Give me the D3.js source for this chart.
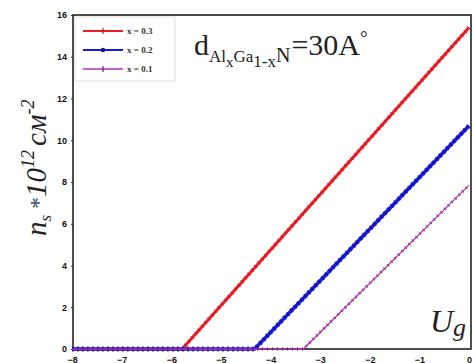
<!DOCTYPE html>
<html>
<head>
<meta charset="utf-8">
<script src="https://cdn.jsdelivr.net/npm/d3@7"></script>
<style>
  body { margin: 0; background: #fff; }
  svg { display: block; }
  .tick text { font-family: "Liberation Sans", Arial, sans-serif; font-weight: bold; font-size: 9px; fill: #111; }
</style>
</head>
<body>
<svg></svg>
<script>
// gate voltage Ug (V) and sheet density ns (1e12 cm^-2)
var ug03 = [-8, -5.78, 0];
var ns03 = [0, 0, 15.4];
var ug02 = [-8, -4.32, 0];
var ns02 = [0, 0, 10.7];
var ug01 = [-8, -3.34, 0];
var ns01 = [0, 0, 7.85];

var seriesNames = ["x = 0.3", "x = 0.2", "x = 0.1"];
var xTicks = [-8, -7, -6, -5, -4, -3, -2, -1, 0];
var yTicks = [0, 2, 4, 6, 8, 10, 12, 14, 16];

var width = 473, height = 363;
var svg = d3.select("svg").attr("width", width).attr("height", height);

var xScale = d3.scaleLinear().domain([-8, 0]).range([72, 469]);
var yScale = d3.scaleLinear().domain([0, 16]).range([349, 15]);

// y axis
svg.append("g")
   .attr("transform", "translate(73,0)")
   .call(d3.axisLeft(yScale).tickValues(yTicks).tickSize(2).tickPadding(4))
   .call(g => g.select(".domain").remove())
   .call(g => g.selectAll(".tick line").attr("stroke", "#333"));

// x axis (labels are cut by the bottom edge, as in the source picture)
svg.append("g")
   .attr("transform", "translate(0,349)")
   .call(d3.axisBottom(xScale).tickValues(xTicks).tickSize(0).tickPadding(8))
   .call(g => g.select(".domain").remove());

// frame
svg.append("rect")
   .attr("x", 73).attr("y", 15)
   .attr("width", 398).attr("height", 334)
   .attr("fill", "none")
   .attr("stroke", "#222")
   .attr("stroke-width", 1.6);

var line = d3.line().x(d => xScale(d[0])).y(d => yScale(d[1]));

var series = [
  {ug: ug03, ns: ns03, color: "#ec1c24", w: 3, mw: 4.5, mc: "#c8141c", dash: "1,4"},
  {ug: ug02, ns: ns02, color: "#1a1ae6", w: 3.6, mw: 4.8, mc: "#10109a", dash: "2,3"},
  {ug: ug01, ns: ns01, color: "#b030b0", w: 1.3, mw: 3.6, mc: "#6a1a78", dash: "1,4"}
];

series.forEach(function(s) {
  var pts = d3.zip(s.ug, s.ns);
  svg.append("path")
     .datum(pts)
     .attr("d", line)
     .attr("fill", "none")
     .attr("stroke", s.color)
     .attr("stroke-width", s.w);
  // dense markers along the curve
  svg.append("path")
     .datum(pts)
     .attr("d", line)
     .attr("fill", "none")
     .attr("stroke", s.mc)
     .attr("stroke-width", s.mw)
     .attr("stroke-dasharray", s.dash)
     .attr("opacity", 0.7);
});

// legend
var legend = svg.append("g");
legend.append("rect")
   .attr("x", 75).attr("y", 17)
   .attr("width", 100).attr("height", 64)
   .attr("fill", "#fff")
   .attr("stroke", "#ddd");

seriesNames.forEach(function(name, i) {
  var y = 31 + i * 19;
  var s = series[i];
  legend.append("line")
     .attr("x1", 83).attr("x2", 123)
     .attr("y1", y).attr("y2", y)
     .attr("stroke", s.color)
     .attr("stroke-width", i == 2 ? 1.5 : 1.8);
  if (i == 1) {
    legend.append("circle").attr("cx", 103).attr("cy", y).attr("r", 2.2).attr("fill", s.mc);
  } else {
    legend.append("line")
       .attr("x1", 103).attr("x2", 103)
       .attr("y1", y - 3).attr("y2", y + 3)
       .attr("stroke", s.mc).attr("stroke-width", 1.2);
  }
  legend.append("text")
     .attr("x", 127).attr("y", y + 3)
     .style("font-family", "Liberation Serif, serif")
     .style("font-weight", "bold")
     .style("font-size", "9px")
     .attr("fill", "#333")
     .text(name);
});

// thickness annotation
var serif = "Liberation Serif, Times New Roman, serif";
var ann = svg.append("text")
   .attr("x", 194).attr("y", 55)
   .style("font-family", serif)
   .style("font-size", "30px")
   .attr("fill", "#222");
ann.append("tspan").text("d");
ann.append("tspan").attr("dy", 7).style("font-size", "17px").text("Al");
ann.append("tspan").attr("dy", 5).style("font-size", "15px").text("x");
ann.append("tspan").attr("dy", -5).style("font-size", "17px").text("Ga");
ann.append("tspan").attr("dy", 5).style("font-size", "17px").text("1-x");
ann.append("tspan").attr("dy", -5).style("font-size", "20px").text("N");
ann.append("tspan").attr("dy", -7).attr("dx", 1).text("=30A");
ann.append("tspan").attr("dy", -11).style("font-size", "19px").text("°");

// y axis title
var yTitle = svg.append("text")
   .attr("transform", "translate(46,236) rotate(-90)")
   .style("font-family", serif)
   .style("font-style", "italic")
   .style("font-size", "29px")
   .attr("fill", "#222");
yTitle.append("tspan").text("n");
yTitle.append("tspan").attr("dy", 5).style("font-size", "17px").text("s");
yTitle.append("tspan").attr("dy", -5).attr("dx", 6).attr("fill", "#3a5070").style("font-style", "normal").style("font-size", "24px").text("*");
yTitle.append("tspan").text("10");
yTitle.append("tspan").attr("dy", -12).style("font-size", "18px").text("12");
yTitle.append("tspan").attr("dy", 12).attr("dx", 4).text("см");
yTitle.append("tspan").attr("dy", -12).style("font-size", "18px").text("-2");

// x axis title
var xTitle = svg.append("text")
   .attr("x", 430).attr("y", 332)
   .style("font-family", serif)
   .style("font-style", "italic")
   .style("font-size", "32px")
   .attr("fill", "#222");
xTitle.append("tspan").text("U");
xTitle.append("tspan").attr("dy", 4).style("font-size", "26px").text("g");
</script>
</body>
</html>
